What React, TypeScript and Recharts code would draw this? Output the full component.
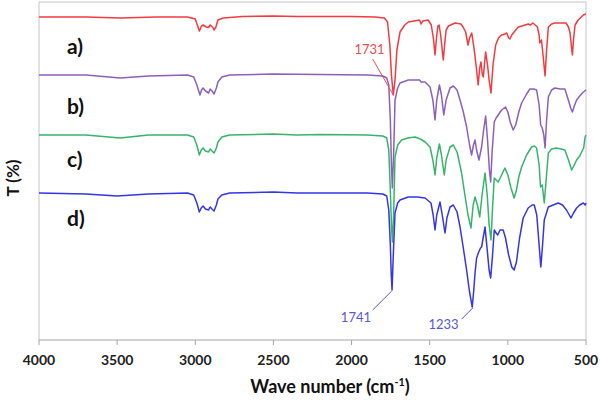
import { LineChart, Line, XAxis, YAxis, ReferenceLine, ReferenceDot } from "recharts";

// FTIR spectra, [wavenumber, offset transmittance]
type Pt = [number, number];

const specA: Pt[] = [
  [4000, 323], [3700, 323], [3480, 322], [3250, 323], [3050, 323], [3000, 321], [2985, 314], [2974, 309],
  [2960, 314], [2950, 315], [2930, 313], [2915, 312.5], [2905, 315], [2890, 313], [2880, 310], [2868, 313],
  [2855, 320], [2820, 322], [2700, 323.5], [2500, 324], [2350, 323.5], [2200, 323.5], [2000, 323.5],
  [1850, 323], [1790, 322], [1770, 318], [1755, 295], [1745, 265], [1733, 245], [1722, 260], [1710, 290],
  [1690, 308], [1660, 315], [1637, 318], [1600, 319], [1565, 320], [1555, 316], [1545, 319], [1510, 320],
  [1490, 315], [1475, 300], [1466, 285], [1458, 300], [1448, 314], [1440, 315], [1430, 305], [1420, 290],
  [1413, 280], [1405, 295], [1395, 310], [1380, 314], [1338, 317], [1300, 316], [1287, 313], [1270, 308],
  [1255, 295], [1245, 302], [1231, 307], [1215, 290], [1200, 270], [1190, 255], [1180, 272], [1172, 278],
  [1163, 265], [1157, 263], [1150, 275], [1142, 288], [1130, 275], [1120, 260], [1108, 247], [1095, 275],
  [1078, 295], [1060, 302], [1040, 305], [1020, 306], [1007, 307], [995, 302], [987, 301], [975, 305],
  [955, 309], [933, 313], [910, 314], [890, 315], [870, 316], [855, 315], [840, 317], [825, 315], [811, 313],
  [800, 305], [796, 297], [785, 300], [775, 285], [762, 264], [752, 290], [741, 313], [720, 316], [699, 317],
  [660, 317], [628, 317], [612, 313], [602, 307], [594, 295], [587, 285], [580, 300], [570, 315], [550, 320],
  [530, 323], [517, 325], [500, 326],
];

const specB: Pt[] = [
  [4000, 265], [3700, 265], [3480, 262], [3300, 264], [3050, 265], [3010, 263], [2990, 255], [2970, 245],
  [2960, 250], [2950, 252], [2935, 249], [2915, 247], [2905, 251], [2893, 249], [2880, 246], [2865, 252],
  [2855, 258], [2830, 263], [2780, 265], [2500, 266], [2200, 265.5], [1900, 265], [1800, 264], [1775, 262],
  [1762, 255], [1752, 220], [1745, 175], [1739, 152], [1730, 190], [1722, 240], [1705, 252], [1690, 257],
  [1637, 260], [1600, 260], [1565, 260], [1555, 258], [1530, 258], [1498, 253], [1480, 240], [1466, 220],
  [1455, 240], [1438, 255], [1425, 245], [1410, 225], [1395, 240], [1370, 252], [1349, 254], [1325, 250],
  [1306, 240], [1285, 228], [1264, 213], [1245, 195], [1232, 185], [1220, 195], [1210, 200], [1200, 190],
  [1185, 180], [1168, 193], [1155, 210], [1142, 224], [1130, 200], [1118, 170], [1110, 158], [1100, 190],
  [1087, 218], [1075, 222], [1062, 225], [1040, 230], [1015, 233], [1000, 228], [985, 218], [966, 210],
  [950, 215], [930, 228], [912, 237], [880, 246], [859, 251], [835, 251], [816, 250], [800, 235], [790, 215],
  [780, 212], [770, 205], [762, 192], [752, 220], [741, 243], [720, 250], [699, 252], [665, 251], [635, 251],
  [613, 240], [598, 232], [587, 228], [575, 234], [560, 240], [540, 244], [517, 248], [500, 250],
];

const specC: Pt[] = [
  [4000, 205], [3700, 205], [3480, 202], [3300, 205], [3050, 205], [3010, 203], [2990, 195], [2974, 185],
  [2962, 190], [2950, 192], [2935, 189], [2915, 188], [2905, 191], [2893, 189], [2880, 187], [2865, 192],
  [2855, 198], [2830, 203], [2780, 205], [2500, 206], [2350, 205], [2200, 205.5], [1900, 205], [1800, 204],
  [1775, 202], [1762, 190], [1752, 150], [1745, 115], [1739, 98], [1730, 130], [1722, 183], [1705, 195],
  [1680, 200], [1640, 202], [1594, 203], [1560, 201], [1530, 198], [1498, 193], [1480, 180], [1466, 165],
  [1455, 182], [1438, 196], [1425, 185], [1407, 165], [1395, 180], [1370, 193], [1349, 195], [1325, 188],
  [1296, 167], [1275, 145], [1255, 125], [1236, 112], [1222, 135], [1210, 143], [1195, 135], [1180, 123],
  [1165, 145], [1146, 167], [1132, 145], [1120, 115], [1108, 100], [1097, 135], [1087, 162], [1075, 160],
  [1062, 158], [1040, 165], [1019, 172], [1000, 165], [980, 152], [960, 142], [945, 150], [930, 163],
  [912, 173], [880, 185], [848, 193], [830, 194], [816, 192], [800, 175], [791, 153], [780, 155], [767, 137],
  [755, 160], [741, 187], [720, 191], [689, 192], [660, 191], [635, 190], [612, 180], [592, 170], [575, 175],
  [560, 180], [540, 184], [528, 188], [515, 192], [506, 203], [500, 205],
];

const specD: Pt[] = [
  [4000, 147], [3700, 146], [3500, 144], [3300, 146], [3050, 147], [3010, 145], [2990, 137], [2974, 128],
  [2962, 132], [2950, 134], [2935, 131], [2915, 130], [2905, 133], [2893, 131], [2880, 129], [2865, 135],
  [2855, 141], [2830, 145], [2780, 147], [2500, 148], [2350, 147], [2200, 147], [1900, 147], [1800, 146],
  [1775, 144], [1762, 130], [1752, 95], [1746, 65], [1741, 50], [1733, 85], [1722, 127], [1705, 137],
  [1690, 140], [1637, 143], [1580, 143], [1530, 142], [1492, 137], [1478, 125], [1466, 110], [1455, 125],
  [1434, 138], [1420, 125], [1402, 107], [1390, 122], [1370, 133], [1349, 135], [1325, 128], [1306, 113],
  [1285, 92], [1264, 70], [1245, 48], [1228, 33], [1218, 50], [1210, 67], [1200, 82], [1189, 87], [1175, 92],
  [1168, 93], [1155, 105], [1146, 113], [1132, 90], [1120, 70], [1110, 62], [1098, 85], [1087, 110],
  [1075, 107], [1065, 105], [1050, 110], [1030, 110], [1015, 102], [995, 85], [975, 73], [960, 70], [945, 78],
  [925, 102], [902, 122], [870, 132], [845, 135], [831, 135], [815, 125], [800, 95], [789, 73], [778, 95],
  [767, 120], [741, 133], [710, 135], [678, 137], [650, 135], [625, 130], [596, 122], [580, 127], [560, 132],
  [540, 135], [517, 137], [505, 135], [500, 137],
];

const xTicks = [4000, 3500, 3000, 2500, 2000, 1500, 1000, 500];
const sampleLabels = ["a)", "b)", "c)", "d)"];

const series = [
  { id: "a", pts: specA, color: "#f23a3f" },
  { id: "b", pts: specB, color: "#8c60b8" },
  { id: "c", pts: specC, color: "#36b46c" },
  { id: "d", pts: specD, color: "#3535e4" },
];

// peak callouts: tip on the band, tail of the leader, text centre
const callouts = [
  { text: "1731", color: "#f04a4f", tip: [1733, 245], tail: [1865, 281], at: [1885, 291] },
  { text: "1741", color: "#5656dc", tip: [1743, 49], tail: [1865, 30], at: [1972, 23] },
  { text: "1233", color: "#5656dc", tip: [1225, 32], tail: [1295, 21], at: [1412, 16] },
];

const toRows = (pts: Pt[]) => pts.map(([wn, t]) => ({ wn, t }));

const font = "Lato, 'Open Sans', sans-serif";
const frame = "#c4c4c4";

export default function App() {
  const labelTops = [34, 94, 147, 206];
  return (
    <div style={{ position: "absolute", left: 0, top: 0, width: 600, height: 403, background: "#fff", fontFamily: font }}>
      <LineChart width={600} height={403} margin={{ top: 2, right: 14, bottom: 33, left: 39 }}>
        <XAxis
          dataKey="wn"
          type="number"
          domain={[500, 4000]}
          reversed
          ticks={xTicks}
          interval={0}
          height={30}
          tickSize={5}
          tickMargin={10}
          stroke="#a6a6a6"
          tick={{ fontSize: 14, fontWeight: 700, fill: "#222", fontFamily: font }}
        />
        <YAxis type="number" domain={[0, 338]} hide />
        <ReferenceLine x={4000} stroke={frame} />
        <ReferenceLine x={500} stroke={frame} />
        <ReferenceLine y={338} stroke={frame} />
        {series.map((s) => (
          <Line
            key={s.id}
            data={toRows(s.pts)}
            dataKey="t"
            type="linear"
            stroke={s.color}
            strokeWidth={1.5}
            strokeLinejoin="round"
            dot={false}
            isAnimationActive={false}
          />
        ))}
        {callouts.map((c) => (
          <ReferenceLine
            key={"l" + c.text}
            segment={[{ x: c.tail[0], y: c.tail[1] }, { x: c.tip[0], y: c.tip[1] }]}
            stroke={c.color}
            strokeWidth={1}
          />
        ))}
        {callouts.map((c) => (
          <ReferenceDot
            key={"t" + c.text}
            x={c.at[0]}
            y={c.at[1]}
            r={0}
            shape={(p: any) => (
              <text x={p.cx} y={p.cy} textAnchor="middle" dominantBaseline="central" fill={c.color} fontSize={13} fontFamily={font}>
                {c.text}
              </text>
            )}
          />
        ))}
      </LineChart>
      {sampleLabels.map((l, i) => (
        <div key={l} style={{ position: "absolute", left: 67, top: labelTops[i], fontSize: 21, fontWeight: 700, color: "#111", lineHeight: "24px" }}>
          {l}
        </div>
      ))}
      <div style={{ position: "absolute", left: 0, width: 660, top: 375, textAlign: "center", fontSize: 18, fontWeight: 700, color: "#111" }}>
        Wave number (cm<sup style={{ fontSize: "0.6em" }}>-1</sup>)
      </div>
      <div
        style={{
          position: "absolute",
          left: 11.5,
          top: 178,
          transform: "translate(-50%, -50%) rotate(-90deg)",
          fontSize: 17,
          fontWeight: 700,
          color: "#111",
          whiteSpace: "nowrap",
        }}
      >
        T (%)
      </div>
    </div>
  );
}
